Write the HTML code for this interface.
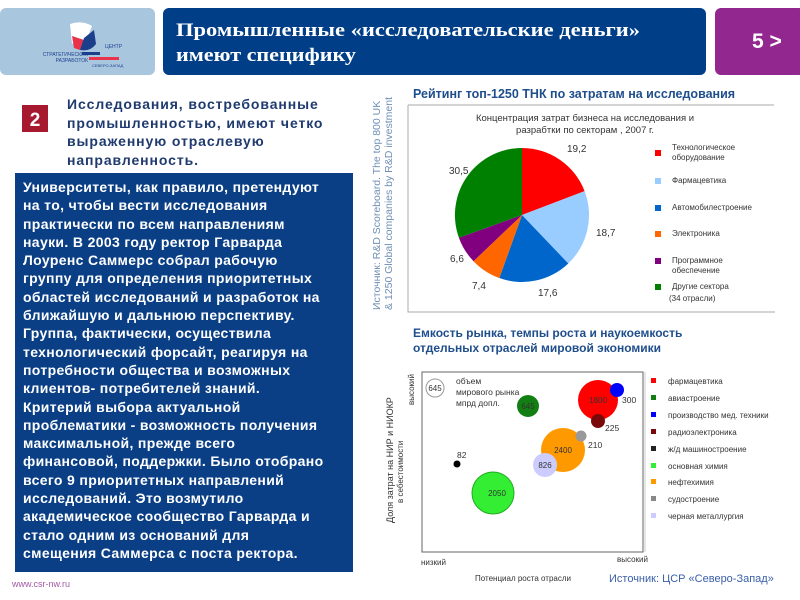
<!DOCTYPE html>
<html><head><meta charset="utf-8"><style>
body{margin:0;width:800px;height:600px;background:#fff;position:relative;overflow:hidden;font-family:"Liberation Sans","Noto Sans CJK SC",sans-serif}
.abs{position:absolute}
#para{left:15px;top:173px;width:338px;height:399px;background:#0a3f86;color:#fff;font-weight:bold;font-size:14px;line-height:18.3px;box-sizing:border-box;padding:5px 0 0 8px;letter-spacing:0.35px;white-space:nowrap}
#head{left:67px;top:95px;color:#1f3a6e;font-weight:bold;font-size:14px;line-height:18.7px;width:300px;letter-spacing:0.9px;white-space:nowrap}
</style></head><body>
<svg class="abs" style="left:0;top:0" width="800" height="600" xmlns="http://www.w3.org/2000/svg" font-family="Liberation Sans, sans-serif">
<rect x="0" y="8" width="155" height="67" rx="6" fill="#a9c6df"/>
<path d="M70 24 Q82 20 92 26 L86 42 Q76 40 72 44 Z" fill="#fff"/>
<path d="M72 36 L84 40 L80 50 L74 48 Z" fill="#e8334a"/>
<path d="M84 38 L94 30 L96 44 Q90 52 80 50 Z" fill="#1c3f8c"/>
<rect x="82" y="52" width="18" height="3" fill="#1c3f8c"/>
<text x="88" y="56" font-size="5" fill="#1c3f8c" text-anchor="end">СТРАТЕГИЧЕСКИХ</text>
<text x="88" y="62" font-size="5" fill="#1c3f8c" text-anchor="end">РАЗРАБОТОК</text>
<rect x="89" y="57" width="30" height="3" fill="#e8334a"/>
<text x="105" y="48" font-size="5" fill="#1c3f8c">ЦЕНТР</text>
<text x="92" y="67" font-size="4" fill="#1c3f8c">СЕВЕРО-ЗАПАД</text>
<rect x="163" y="8" width="543" height="67" rx="6" fill="#003f87"/>
<text x="176" y="36" font-family="Liberation Serif, serif" font-weight="bold" font-size="18.5" fill="#fff" textLength="464" lengthAdjust="spacingAndGlyphs">Промышленные «исследовательские деньги»</text>
<text x="176" y="61" font-family="Liberation Serif, serif" font-weight="bold" font-size="18.5" fill="#fff" textLength="180" lengthAdjust="spacingAndGlyphs">имеют специфику</text>
<rect x="715" y="8" width="90" height="67" rx="6" fill="#92278f"/>
<text x="752" y="48" font-weight="bold" font-size="21" fill="#fff">5 &gt;</text>
<rect x="22" y="105" width="26" height="27" fill="#a6192e"/>
<text x="35" y="126" font-weight="bold" font-size="19" fill="#fff" text-anchor="middle">2</text>
<text x="12" y="587" font-size="9" fill="#a05aa5">www.csr-nw.ru</text>
<g transform="translate(380,310) rotate(-90)" font-size="10.5" fill="#6f8fb5">
<text x="0" y="0">Источник: R&amp;D Scoreboard. The top 800 UK</text>
<text x="0" y="12">&amp; 1250 Global companies by R&amp;D investment</text></g>
<text x="413" y="98" font-weight="bold" font-size="12.5" fill="#1f4e8c">Рейтинг топ-1250 ТНК по затратам на исследования</text>
<path d="M408 105 H774 M408 105 V312 H775" stroke="#aaa" fill="none"/>
<text x="585" y="121" font-size="9.5" fill="#333" text-anchor="middle">Концентрация затрат бизнеса на исследования и</text>
<text x="585" y="133" font-size="9.5" fill="#333" text-anchor="middle">разрабтки по секторам , 2007 г.</text>
<g>
<path d="M522 215 L522 148 A67 67 0 0 1 584.6 191.1 Z" fill="#ff0000"/>
<path d="M522 215 L584.6 191.1 A67 67 0 0 1 568.3 263.5 Z" fill="#99ccff"/>
<path d="M522 215 L568.3 263.5 A67 67 0 0 1 499.3 278 Z" fill="#0066cc"/>
<path d="M522 215 L499.3 278 A67 67 0 0 1 473.5 261.2 Z" fill="#ff6600"/>
<path d="M522 215 L473.5 261.2 A67 67 0 0 1 458.9 237.7 Z" fill="#800080"/>
<path d="M522 215 L458.9 237.7 A67 67 0 0 1 522 148 Z" fill="#008000"/>
</g>
<g font-size="10" fill="#333">
<text x="567" y="152">19,2</text><text x="596" y="236">18,7</text><text x="538" y="296">17,6</text>
<text x="472" y="289">7,4</text><text x="450" y="262">6,6</text><text x="449" y="174">30,5</text>
</g>
<g font-size="8" fill="#333">
<rect x="655" y="150" width="6" height="6" fill="#ff0000"/><text x="672" y="150">Технологическое</text><text x="672" y="160">оборудование</text>
<rect x="655" y="178" width="6" height="6" fill="#99ccff"/><text x="672" y="183">Фармацевтика</text>
<rect x="655" y="205" width="6" height="6" fill="#0066cc"/><text x="672" y="210">Автомобилестроение</text>
<rect x="655" y="231" width="6" height="6" fill="#ff6600"/><text x="672" y="236">Электроника</text>
<rect x="655" y="258" width="6" height="6" fill="#800080"/><text x="672" y="263">Программное</text><text x="672" y="273">обеспечение</text>
<rect x="655" y="284" width="6" height="6" fill="#008000"/><text x="672" y="289">Другие сектора</text><text x="669" y="301">(34 отрасли)</text>
</g>
<text x="413" y="337" font-weight="bold" font-size="12" fill="#1f4e8c">Емкость рынка, темпы роста и наукоемкость</text>
<text x="413" y="352" font-weight="bold" font-size="12" fill="#1f4e8c">отдельных отраслей мировой экономики</text>
<rect x="422" y="372" width="221" height="180" fill="none" stroke="#666"/>
<line x1="645" y1="372" x2="645" y2="552" stroke="#ccc"/>
<circle cx="435" cy="388" r="9" fill="#fff" stroke="#999"/>
<text x="435" y="391" font-size="8" fill="#333" text-anchor="middle">645</text>
<g font-size="8.5" fill="#333"><text x="456" y="384">объем</text><text x="456" y="395">мирового рынка</text><text x="456" y="406">мпрд допл.</text></g>
<circle cx="528" cy="406" r="11" fill="#137f13"/>
<text x="528" y="409" font-size="8" fill="#333" text-anchor="middle">645</text>
<circle cx="598" cy="400" r="20" fill="#ff0000"/>
<text x="598" y="403" font-size="8" fill="#333" text-anchor="middle">1800</text>
<circle cx="617" cy="390" r="7" fill="#0000ff"/>
<text x="622" y="403" font-size="8.5" fill="#333">300</text>
<circle cx="598" cy="421" r="7" fill="#7a0a0a"/>
<text x="605" y="431" font-size="8.5" fill="#333">225</text>
<circle cx="563" cy="450" r="22" fill="#ff9900"/>
<text x="563" y="453" font-size="8" fill="#333" text-anchor="middle">2400</text>
<circle cx="581" cy="436" r="5.5" fill="#999"/>
<text x="588" y="448" font-size="8.5" fill="#333">210</text>
<circle cx="545" cy="465" r="12" fill="#ccccff"/>
<text x="545" y="468" font-size="8" fill="#333" text-anchor="middle">826</text>
<circle cx="457" cy="464" r="3.5" fill="#000"/>
<text x="457" y="458" font-size="8.5" fill="#333">82</text>
<circle cx="493" cy="493" r="21" fill="#33ee33" stroke="#2a2" stroke-width="1"/>
<text x="497" y="496" font-size="8" fill="#333" text-anchor="middle">2050</text>
<g font-size="8" fill="#333">
<rect x="651" y="378" width="5" height="5" fill="#ff0000"/><text x="668" y="384">фармацевтика</text>
<rect x="651" y="395" width="5" height="5" fill="#137f13"/><text x="668" y="401">авиастроение</text>
<rect x="651" y="412" width="5" height="5" fill="#0000ff"/><text x="668" y="418">производство мед. техники</text>
<rect x="651" y="429" width="5" height="5" fill="#7a0a0a"/><text x="668" y="435">радиоэлектроника</text>
<rect x="651" y="446" width="5" height="5" fill="#222"/><text x="668" y="452">ж/д машиностроение</text>
<rect x="651" y="463" width="5" height="5" fill="#33ee33"/><text x="668" y="469">основная химия</text>
<rect x="651" y="479" width="5" height="5" fill="#ff9900"/><text x="668" y="485">нефтехимия</text>
<rect x="651" y="496" width="5" height="5" fill="#888"/><text x="668" y="502">судостроение</text>
<rect x="651" y="513" width="5" height="5" fill="#ccccff"/><text x="668" y="519">черная металлургия</text>
</g>
<g font-size="8" fill="#333">
<text x="421" y="565">низкий</text><text x="617" y="562">высокий</text>
<text x="475" y="581">Потенциал роста отрасли</text>
<g transform="translate(414,405) rotate(-90)"><text x="0" y="0">высокий</text></g>
<g transform="translate(393,523) rotate(-90)"><text x="0" y="0" font-size="9">Доля затрат на НИР и НИОКР</text><text x="20" y="10">в себестоимости</text></g>
</g>
<text x="609" y="582" font-size="11" fill="#3a5fa8">Источник: ЦСР «Северо-Запад»</text>
</svg>
<div id="head" class="abs">Исследования, востребованные<br>промышленностью, имеют четко<br>выраженную отраслевую<br>направленность.</div>
<div id="para" class="abs">Университеты, как правило, претендуют<br>на то, чтобы вести исследования<br>практически по всем направлениям<br>науки. В 2003 году ректор Гарварда<br>Лоуренс Саммерс собрал рабочую<br>группу для определения приоритетных<br>областей исследований и разработок на<br>ближайшую и дальнюю перспективу.<br>Группа, фактически, осуществила<br>технологический форсайт, реагируя на<br>потребности общества и возможных<br>клиентов- потребителей знаний.<br>Критерий выбора актуальной<br>проблематики - возможность получения<br>максимальной, прежде всего<br>финансовой, поддержки. Было отобрано<br>всего 9 приоритетных направлений<br>исследований. Это возмутило<br>академическое сообщество Гарварда и<br>стало одним из оснований для<br>смещения Саммерса с поста ректора.</div>
</body></html>
